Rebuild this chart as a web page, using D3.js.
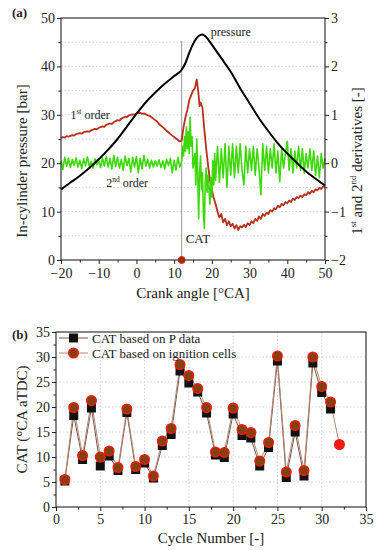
<!DOCTYPE html>
<html>
<head>
<meta charset="utf-8">
<script src="https://cdn.jsdelivr.net/npm/d3@7"></script>
<style>
    body { margin: 0; background: #fff; }
    svg text { font-family: "Liberation Serif", "Times New Roman", serif; fill: #222; }
</style>
</head>
<body>
<div id="chart"></div>
<script>
// (a) in-cylinder pressure [crank angle, bar]
const pressure = [
    [-20, 14.6], [-17.5, 16.0], [-15, 17.4], [-12.5, 19.0], [-10, 20.8], [-7.5, 22.8],
    [-5, 25.0], [-2.5, 27.6], [0, 30.2], [2.5, 32.6], [5, 34.6], [7.5, 36.4], [10, 38.0],
    [12, 39.3], [13, 40.7], [14, 42.8], [15, 44.6], [16, 45.9], [17, 46.5], [17.5, 46.6],
    [18, 46.4], [19, 45.6], [20, 44.5], [22.5, 41.7], [25, 38.9], [27.5, 35.5], [30, 32.4],
    [32.5, 29.3], [35, 26.6], [37.5, 24.1], [40, 22.0], [42.5, 20.1], [45, 18.3],
    [47.5, 16.8], [50, 15.4]
];

// (a) 1st order derivative [crank angle, -]
const firstOrder = [
    [-20, 0.52], [-19.5, 0.54], [-19, 0.53], [-18.5, 0.56], [-18, 0.55], [-17, 0.58], [-16.5, 0.57],
    [-16, 0.60], [-15, 0.62], [-14.5, 0.61], [-14, 0.64], [-13, 0.66], [-12.5, 0.65], [-12, 0.68],
    [-11, 0.71], [-10.5, 0.70], [-10, 0.73], [-9, 0.76], [-8.5, 0.75], [-8, 0.79], [-7, 0.82],
    [-6.5, 0.81], [-6, 0.85], [-5, 0.89], [-4.5, 0.88], [-4, 0.92], [-3, 0.96], [-2.5, 0.95],
    [-2, 0.99], [-1, 1.01], [-0.5, 1.00], [0, 1.03], [1, 1.04], [1.5, 1.02], [2, 1.03], [3, 0.99],
    [3.5, 0.98], [4, 0.95], [5, 0.89], [5.5, 0.86], [6, 0.81], [7, 0.74], [7.5, 0.71], [8, 0.67],
    [9, 0.60], [9.5, 0.57], [10, 0.54], [11, 0.48], [11.5, 0.45], [12, 0.47],
    [12.5, 0.75], [13, 0.95], [13.5, 1.10], [14, 1.30], [14.5, 1.40], [15, 1.50], [15.5, 1.55],
    [16, 1.73], [16.5, 1.40], [16.75, 1.18], [17, 1.25], [17.5, 1.15], [18, 0.70], [18.5, 0.30],
    [19, -0.05], [19.5, -0.35], [20, -0.55], [20.5, -0.72], [21, -0.85], [21.5, -1.00],
    [22, -1.12], [22.5, -1.05], [23, -1.22], [23.5, -1.15], [24, -1.28], [24.5, -1.20],
    [25, -1.30], [25.5, -1.25], [26, -1.35], [26.5, -1.28], [27, -1.38], [27.5, -1.30],
    [28, -1.33], [28.5, -1.27], [29, -1.32], [29.5, -1.24], [30, -1.28], [30.5, -1.20],
    [31, -1.24], [31.5, -1.15], [32, -1.19], [32.5, -1.10], [33, -1.15], [33.5, -1.05],
    [34, -1.09], [34.5, -1.02], [35, -1.05], [35.5, -0.97], [36, -1.00], [36.5, -0.93],
    [37, -0.95], [37.5, -0.88], [38, -0.91], [38.5, -0.84], [39, -0.87], [39.5, -0.80],
    [40, -0.83], [40.5, -0.77], [41, -0.80], [41.5, -0.73], [42, -0.76], [42.5, -0.70],
    [43, -0.72], [43.5, -0.67], [44, -0.70], [44.5, -0.64], [45, -0.66], [45.5, -0.60],
    [46, -0.63], [46.5, -0.57], [47, -0.60], [47.5, -0.54], [48, -0.56], [48.5, -0.51],
    [49, -0.53], [49.5, -0.48], [50, -0.49]
];

// (a) 2nd order derivative [crank angle, -]
const secondOrder = [
    [-20, 0.05], [-19.5, -0.13], [-19, 0.12], [-18.5, -0.06], [-18, 0.10], [-17.5, -0.09],
    [-17, 0.08], [-16.5, -0.04], [-16, 0.11], [-15.5, -0.08], [-15, 0.06], [-14.5, -0.11],
    [-14, 0.09], [-13.5, -0.05], [-13, 0.13], [-12.5, -0.07], [-12, 0.04], [-11.5, -0.10],
    [-11, 0.09], [-10.5, -0.03], [-10, 0.06], [-9.5, -0.09], [-9, 0.11], [-8.5, -0.06],
    [-8, 0.14], [-7.5, -0.08], [-7, 0.10], [-6.5, -0.12], [-6, 0.16], [-5.5, -0.07],
    [-5, 0.12], [-4.5, -0.10], [-4, 0.08], [-3.5, -0.15], [-3, 0.15], [-2.5, -0.05],
    [-2, 0.10], [-1.5, -0.18], [-1, 0.12], [-0.5, -0.08], [0, 0.14], [0.5, -0.20], [1, 0.10],
    [1.5, -0.12], [2, 0.16], [2.5, -0.06], [3, 0.08], [3.5, -0.10], [4, 0.06], [4.5, -0.08],
    [5, 0.05], [5.5, -0.06], [6, 0.07], [6.5, -0.09], [7, 0.05], [7.5, -0.12], [8, 0.08],
    [8.5, -0.05], [9, 0.10], [9.5, -0.20], [10, 0.06], [10.5, -0.14], [11, 0.12], [11.5, -0.08],
    [12, 0.04], [12.25, 0.35], [12.5, 0.15], [12.75, 0.55], [13, 0.25], [13.25, 0.75],
    [13.5, 0.30], [13.75, 0.65], [14, 0.20], [14.25, 0.95], [14.5, 0.35], [14.75, 0.55],
    [15, -0.10], [15.5, 0.20], [15.75, -0.45], [16, 0.50], [16.25, -0.20], [16.5, -1.15],
    [16.75, -0.20], [17, 0.15], [17.25, -0.55], [17.5, -0.20], [17.75, -1.00], [18, -1.35],
    [18.25, -0.40], [18.5, -0.10], [18.75, -0.60], [19, -0.25], [19.5, -0.85], [19.75, -0.30],
    [20, -0.70], [20.25, 0.05], [20.5, -0.45], [20.75, 0.20], [21, -0.35], [21.5, 0.35],
    [22, -0.40], [22.5, 0.30], [23, -0.30], [23.5, 0.40], [24, -0.50], [24.5, 0.35],
    [25, -0.25], [25.5, 0.40], [26, -0.30], [26.5, 0.35], [27, -0.20], [27.5, 0.40],
    [28, -0.15], [28.5, -0.45], [29, 0.35], [29.5, -0.20], [30, 0.30], [30.5, -0.15],
    [31, 0.35], [31.5, -0.25], [32, 0.30], [32.5, -0.10], [33, -0.65], [33.5, 0.40],
    [34, -0.15], [34.5, 0.35], [35, -0.20], [35.5, 0.30], [36, -0.10], [36.5, 0.40],
    [37, -0.20], [37.5, 0.25], [38, -0.38], [38.5, 0.30], [39, -0.10], [39.5, 0.20],
    [40, 0.45], [40.5, -0.15], [41, 0.30], [41.5, -0.20], [42, 0.25], [42.5, -0.10],
    [43, 0.35], [43.5, -0.15], [44, 0.30], [44.5, -0.20], [45, 0.20], [45.5, -0.10],
    [46, 0.30], [46.5, -0.15], [47, 0.25], [47.5, -0.25], [48, 0.15], [48.5, -0.30],
    [49, 0.20], [49.5, -0.10], [50, 0.10]
];

const catAngle = 12;

// (b) CAT per cycle
const cycles = [1, 2, 3, 4, 5, 6, 7, 8, 9, 10, 11, 12, 13, 14, 15, 16, 17, 18, 19, 20,
    21, 22, 23, 24, 25, 26, 27, 28, 29, 30, 31, 32];
const catPressure = [5.2, 18.3, 9.5, 19.8, 8.2, 10.2, 7.3, 18.9, 7.5, 8.8, 5.8, 12.3, 14.5,
    27.2, 24.8, 23.0, 18.8, 10.4, 9.9, 18.6, 14.3, 13.8, 8.2, 11.9, 29.2, 5.9, 15.0, 6.2,
    28.8, 22.9, 19.6, null];
const catIgnition = [5.5, 19.9, 10.3, 21.3, 10.0, 11.2, 7.9, 19.6, 8.1, 9.5, 6.2, 13.2, 15.7,
    28.5, 26.3, 23.7, 19.9, 11.0, 10.9, 19.8, 15.5, 14.9, 9.2, 12.9, 30.2, 7.0, 16.3, 7.3,
    30.0, 24.1, 21.0, 12.5];

const legendLabels = ["CAT based on P data", "CAT based on ignition cells"];

const svg = d3.select("#chart").append("svg")
    .attr("width", 380)
    .attr("height", 550);

function addAxis(g, axis) {
    g.call(axis)
        .call((s) => s.select(".domain").remove())
        .call((s) => s.selectAll("line").attr("stroke", "#222"))
        .call((s) => s.selectAll("text")
            .attr("font-size", 14)
            .attr("fill", "#222"));
}

function addMinorTicks(g, axisFn, scale, values, size) {
    g.call(axisFn(scale).tickValues(values).tickSize(size).tickFormat(""))
        .call((s) => s.select(".domain").remove())
        .call((s) => s.selectAll("line").attr("stroke", "#222"));
}

// ---------- (a) ----------
const a = {left: 61, right: 325, top: 18, bottom: 260};
const xA = d3.scaleLinear().domain([-20, 50]).range([a.left, a.right]);
const yP = d3.scaleLinear().domain([0, 50]).range([a.bottom, a.top]);
const yD = d3.scaleLinear().domain([-2, 3]).range([a.bottom, a.top]);

svg.append("g")
    .selectAll("line")
    .data(d3.range(5, 50, 5))
    .join("line")
    .attr("x1", a.left).attr("x2", a.right)
    .attr("y1", (d) => yP(d)).attr("y2", (d) => yP(d))
    .attr("stroke", "#c8c8c8")
    .attr("stroke-width", 0.8)
    .attr("stroke-dasharray", "1.5 2");

const lineA = (scaleY) => d3.line().x((d) => xA(d[0])).y((d) => scaleY(d[1]));

svg.append("line")
    .attr("x1", xA(catAngle)).attr("x2", xA(catAngle))
    .attr("y1", yP(45.3)).attr("y2", yP(0))
    .attr("stroke", "#8a8a8a")
    .attr("stroke-width", 0.9);

svg.append("path")
    .datum(firstOrder)
    .attr("fill", "none")
    .attr("stroke", "#b8301c")
    .attr("stroke-width", 1.8)
    .attr("stroke-linejoin", "round")
    .attr("d", lineA(yD));

svg.append("path")
    .datum(secondOrder)
    .attr("fill", "none")
    .attr("stroke", "#3ed80a")
    .attr("stroke-width", 1.6)
    .attr("stroke-linejoin", "round")
    .attr("d", lineA(yD));

svg.append("path")
    .datum(pressure)
    .attr("fill", "none")
    .attr("stroke", "#000")
    .attr("stroke-width", 2)
    .attr("stroke-linejoin", "round")
    .attr("d", lineA(yP).curve(d3.curveMonotoneX));

svg.append("rect")
    .attr("x", a.left).attr("y", a.top)
    .attr("width", a.right - a.left).attr("height", a.bottom - a.top)
    .attr("fill", "none")
    .attr("stroke", "#222")
    .attr("stroke-width", 1.1);

svg.append("circle")
    .attr("cx", xA(catAngle)).attr("cy", yP(0))
    .attr("r", 3.5)
    .attr("fill", "#8e3412")
    .attr("stroke", "#d8261a")
    .attr("stroke-width", 1);

addAxis(svg.append("g").attr("transform", `translate(0,${a.bottom})`),
    d3.axisBottom(xA).tickValues(d3.range(-20, 51, 10)).tickSize(4).tickPadding(4));
addMinorTicks(svg.append("g").attr("transform", `translate(0,${a.bottom})`),
    d3.axisBottom, xA, d3.range(-15, 50, 10), 2.5);
addAxis(svg.append("g").attr("transform", `translate(${a.left},0)`),
    d3.axisLeft(yP).tickValues(d3.range(0, 51, 10)).tickSize(4).tickPadding(2));
addMinorTicks(svg.append("g").attr("transform", `translate(${a.left},0)`),
    d3.axisLeft, yP, d3.range(5, 50, 10), 2.5);
addAxis(svg.append("g").attr("transform", `translate(${a.right},0)`),
    d3.axisRight(yD).tickValues(d3.range(-2, 3.1, 1)).tickSize(4).tickPadding(2)
        .tickFormat(d3.format("d")));
addMinorTicks(svg.append("g").attr("transform", `translate(${a.right},0)`),
    d3.axisRight, yD, d3.range(-1.5, 3, 1), 2.5);

svg.append("text")
    .attr("x", 12).attr("y", 17)
    .attr("font-size", 13).attr("font-weight", "bold")
    .text("(a)");

svg.append("text")
    .attr("x", (a.left + a.right) / 2).attr("y", 298)
    .attr("text-anchor", "middle").attr("font-size", 15)
    .text("Crank angle [°CA]");

svg.append("text")
    .attr("transform", `translate(27,${(a.top + a.bottom) / 2 + 22}) rotate(-90)`)
    .attr("text-anchor", "middle").attr("font-size", 15)
    .text("In-cylinder pressure [bar]");

const rightTitle = svg.append("text")
    .attr("transform", `translate(362,${(a.top + a.bottom) / 2 + 22}) rotate(-90)`)
    .attr("text-anchor", "middle").attr("font-size", 15);
rightTitle.append("tspan").text("1");
rightTitle.append("tspan").attr("font-size", 9).attr("dy", -6).text("st");
rightTitle.append("tspan").attr("dy", 6).text(" and 2");
rightTitle.append("tspan").attr("font-size", 9).attr("dy", -6).text("nd");
rightTitle.append("tspan").attr("dy", 6).text(" derivatives [-]");

svg.append("text")
    .attr("x", xA(25)).attr("y", yP(46.2))
    .attr("text-anchor", "middle").attr("font-size", 12)
    .text("pressure");

const first = svg.append("text")
    .attr("x", xA(-17.5)).attr("y", yP(29.2)).attr("font-size", 12);
first.append("tspan").text("1");
first.append("tspan").attr("font-size", 7.5).attr("dy", -5).text("st");
first.append("tspan").attr("dy", 5).text(" order");

const second = svg.append("text")
    .attr("x", xA(-8)).attr("y", yP(15.1)).attr("font-size", 12);
second.append("tspan").text("2");
second.append("tspan").attr("font-size", 7.5).attr("dy", -5).text("nd");
second.append("tspan").attr("dy", 5).text(" order");

svg.append("text")
    .attr("x", xA(catAngle) + 4).attr("y", yP(3.6))
    .attr("font-size", 13)
    .text("CAT");

// ---------- (b) ----------
const b = {left: 56, right: 366, top: 332, bottom: 507};
const xB = d3.scaleLinear().domain([0, 35]).range([b.left, b.right]);
const yB = d3.scaleLinear().domain([0, 35]).range([b.bottom, b.top]);

const gridB = svg.append("g")
    .attr("stroke", "#c8c8c8")
    .attr("stroke-width", 0.8)
    .attr("stroke-dasharray", "1.5 2");
gridB.selectAll(".gv")
    .data(d3.range(5, 35, 5))
    .join("line")
    .attr("class", "gv")
    .attr("x1", (d) => xB(d)).attr("x2", (d) => xB(d))
    .attr("y1", b.top).attr("y2", b.bottom);
gridB.selectAll(".gh")
    .data(d3.range(5, 35, 5))
    .join("line")
    .attr("class", "gh")
    .attr("x1", b.left).attr("x2", b.right)
    .attr("y1", (d) => yB(d)).attr("y2", (d) => yB(d));

const pData = cycles.map((c, i) => [c, catPressure[i]]).filter((d) => d[1] !== null);
const iData = cycles.map((c, i) => [c, catIgnition[i]]);
const lineB = d3.line().x((d) => xB(d[0])).y((d) => yB(d[1]));

svg.append("path")
    .datum(pData)
    .attr("fill", "none")
    .attr("stroke", "#6e5648")
    .attr("stroke-width", 1)
    .attr("d", lineB);

svg.append("path")
    .datum(iData)
    .attr("fill", "none")
    .attr("stroke", "#b88672")
    .attr("stroke-width", 1)
    .attr("d", lineB);

svg.append("g")
    .selectAll("rect")
    .data(pData)
    .join("rect")
    .attr("x", (d) => xB(d[0]) - 4.5)
    .attr("y", (d) => yB(d[1]) - 4.5)
    .attr("width", 9).attr("height", 9)
    .attr("fill", "#111");

svg.append("g")
    .selectAll("circle")
    .data(iData)
    .join("circle")
    .attr("cx", (d) => xB(d[0]))
    .attr("cy", (d) => yB(d[1]))
    .attr("r", 4.8)
    .attr("fill", (d, i) => catPressure[i] === null ? "#f01c10" : "#86400f")
    .attr("stroke", "#f01c10")
    .attr("stroke-width", 1.4);

svg.append("rect")
    .attr("x", b.left).attr("y", b.top)
    .attr("width", b.right - b.left).attr("height", b.bottom - b.top)
    .attr("fill", "none")
    .attr("stroke", "#222")
    .attr("stroke-width", 1.1);

addAxis(svg.append("g").attr("transform", `translate(0,${b.bottom})`),
    d3.axisBottom(xB).tickValues(d3.range(0, 36, 5)).tickSize(4).tickPadding(3));
addMinorTicks(svg.append("g").attr("transform", `translate(0,${b.bottom})`),
    d3.axisBottom, xB, d3.range(2.5, 35, 5), 2.5);
addAxis(svg.append("g").attr("transform", `translate(${b.left},0)`),
    d3.axisLeft(yB).tickValues(d3.range(0, 36, 5)).tickSize(4).tickPadding(2));
addMinorTicks(svg.append("g").attr("transform", `translate(${b.left},0)`),
    d3.axisLeft, yB, d3.range(2.5, 35, 5), 2.5);

svg.append("text")
    .attr("x", 12).attr("y", 339)
    .attr("font-size", 13).attr("font-weight", "bold")
    .text("(b)");

svg.append("text")
    .attr("x", (b.left + b.right) / 2).attr("y", 543)
    .attr("text-anchor", "middle").attr("font-size", 15)
    .text("Cycle Number [-]");

svg.append("text")
    .attr("transform", `translate(27,${(b.top + b.bottom) / 2}) rotate(-90)`)
    .attr("text-anchor", "middle").attr("font-size", 15)
    .text("CAT (°CA aTDC)");

const legend = svg.append("g").attr("transform", `translate(${b.left + 3},${b.top + 6})`);
legendLabels.forEach((label, index) => {
    const item = legend.append("g").attr("transform", `translate(0,${index * 15})`);
    item.append("line")
        .attr("x1", 0).attr("x2", 29).attr("y1", 0).attr("y2", 0)
        .attr("stroke", index === 0 ? "#6e5648" : "#b88672")
        .attr("stroke-width", 1);
    if (index === 0) {
        item.append("rect")
            .attr("x", 10).attr("y", -4.5).attr("width", 9).attr("height", 9)
            .attr("fill", "#111");
    } else {
        item.append("circle")
            .attr("cx", 14.5).attr("cy", 0).attr("r", 4.8)
            .attr("fill", "#86400f")
            .attr("stroke", "#f01c10")
            .attr("stroke-width", 1.4);
    }
    item.append("text")
        .attr("x", 33).attr("y", 4.5)
        .attr("font-size", 13)
        .text(label);
});
</script>
</body>
</html>
